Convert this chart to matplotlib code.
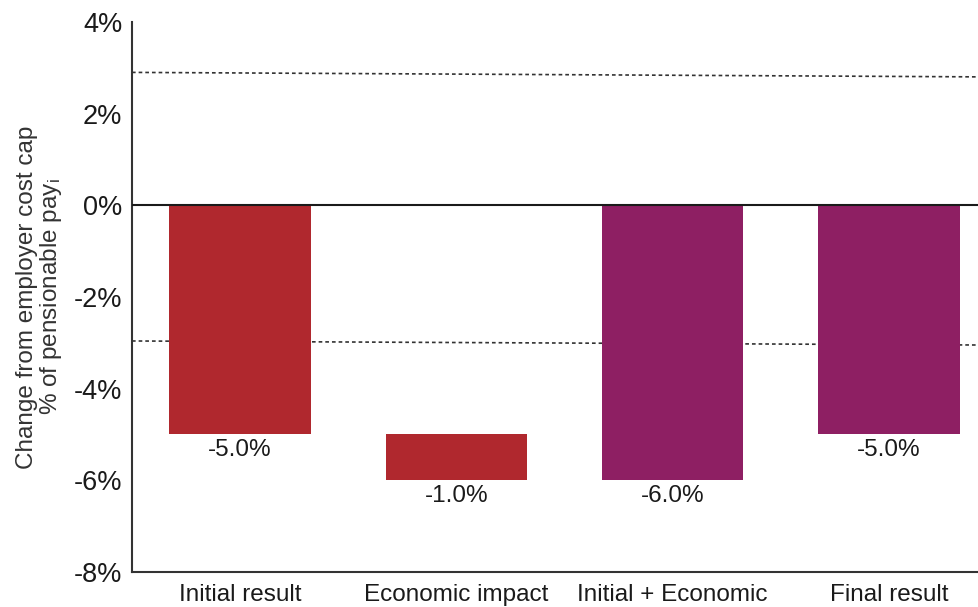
import matplotlib
matplotlib.use("Agg")
import matplotlib.pyplot as plt
from matplotlib.ticker import FuncFormatter

plt.rcParams["font.family"] = ["Liberation Sans", "DejaVu Sans"]
plt.rcParams["mathtext.default"] = "regular"

categories = ["Initial result", "Economic impact", "Initial + Economic", "Final result"]
bar_starts = [0.0, -5.0, 0.0, 0.0]
bar_changes = [-5.0, -1.0, -6.0, -5.0]
bar_colors = ["#B0282E", "#B0282E", "#8E1F63", "#8E1F63"]
upper_band = [2.9, 2.8]
lower_band = [-2.96, -3.05]
y_ticks = [-8, -6, -4, -2, 0, 2, 4]

fig = plt.figure(figsize=(9.79, 6.07), dpi=100, facecolor="white")
ax = fig.add_axes([0.1348, 0.0577, 0.8836, 0.9061])

x = list(range(len(categories)))
ax.bar(x, bar_changes, bottom=bar_starts, width=0.655, color=bar_colors,
       edgecolor="none", zorder=2)

for xi, s, c in zip(x, bar_starts, bar_changes):
    ax.annotate(f"{c:.1f}%", xy=(xi, s + c), xytext=(0, -3.5),
                textcoords="offset points", ha="center", va="top",
                fontsize=17.5, color="#1a1a1a")

ax.axhline(0, color="#1a1a1a", linewidth=1.5, zorder=3)
ax.plot([-0.5, 3.5], upper_band, color="#333333", linewidth=1.2,
        linestyle=(0, (2.2, 1.8)), zorder=1)
ax.plot([-0.5, 3.5], lower_band, color="#333333", linewidth=1.2,
        linestyle=(0, (2.2, 1.8)), zorder=1)

ax.set_xlim(-0.5, 3.5)
ax.set_ylim(-8, 4)
ax.set_yticks(y_ticks)
ax.yaxis.set_major_formatter(FuncFormatter(lambda v, p: f"{v:.0f}%"))
ax.set_xticks(x)
ax.set_xticklabels(categories)
ax.tick_params(axis="y", length=0, labelsize=19.5, pad=7, colors="#1a1a1a")
ax.tick_params(axis="x", length=0, labelsize=17.5, pad=9, colors="#1a1a1a")

for side in ["top", "right"]:
    ax.spines[side].set_visible(False)
for side in ["left", "bottom"]:
    ax.spines[side].set_color("#333333")
    ax.spines[side].set_linewidth(1.5)

fig.text(40 / 979, 1 - 297 / 607,
         "Change from employer cost cap\n% of pensionable pay$_{i}$",
         rotation=90, ha="center", va="center", fontsize=17.5,
         color="#333333", linespacing=1.05)

fig.savefig("out.png", dpi=100, facecolor="white")
